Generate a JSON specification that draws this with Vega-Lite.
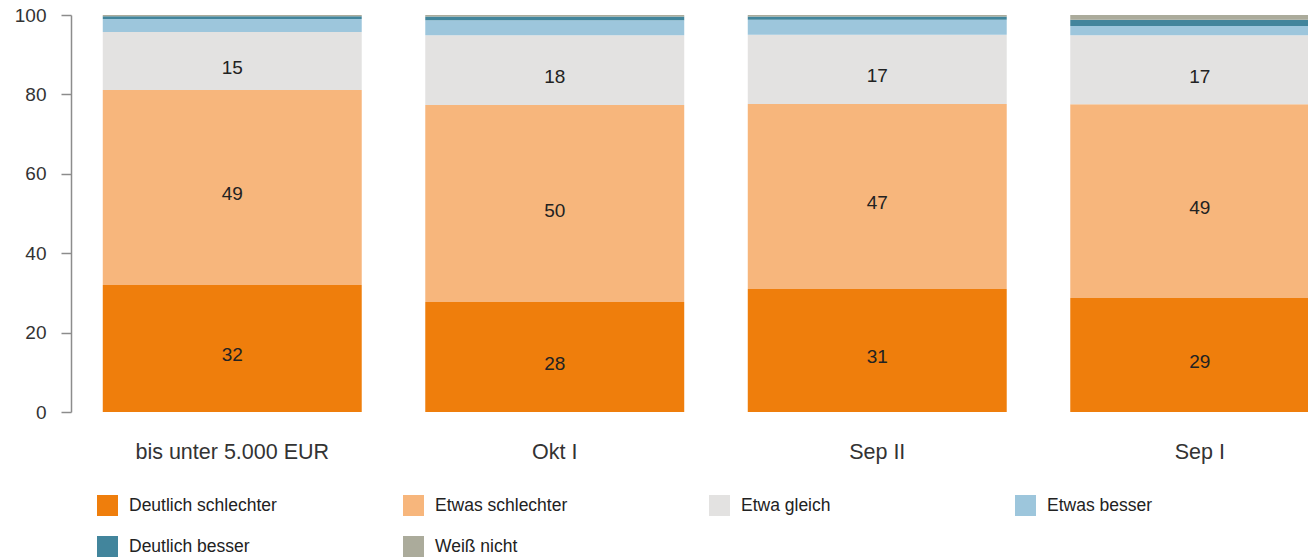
{
  "$schema": "https://vega.github.io/schema/vega-lite/v6.json",
  "width": 1290,
  "height": 397,
  "padding": {"left": 14, "top": 6, "right": 0, "bottom": 0},
  "config": {"font": "Liberation Sans", "view": {"stroke": null}},
  "data": {"values": [
    {"g": "bis unter 5.000 EUR", "c": "Deutlich schlechter", "v": 32.0, "r": 1},
    {"g": "bis unter 5.000 EUR", "c": "Etwas schlechter", "v": 49.1, "r": 2},
    {"g": "bis unter 5.000 EUR", "c": "Etwa gleich", "v": 14.6, "r": 3},
    {"g": "bis unter 5.000 EUR", "c": "Etwas besser", "v": 3.3, "r": 4},
    {"g": "bis unter 5.000 EUR", "c": "Deutlich besser", "v": 0.7, "r": 5},
    {"g": "bis unter 5.000 EUR", "c": "Weiß nicht", "v": 0.3, "r": 6},
    {"g": "Okt I", "c": "Deutlich schlechter", "v": 27.7, "r": 1},
    {"g": "Okt I", "c": "Etwas schlechter", "v": 49.6, "r": 2},
    {"g": "Okt I", "c": "Etwa gleich", "v": 17.6, "r": 3},
    {"g": "Okt I", "c": "Etwas besser", "v": 3.8, "r": 4},
    {"g": "Okt I", "c": "Deutlich besser", "v": 0.9, "r": 5},
    {"g": "Okt I", "c": "Weiß nicht", "v": 0.4, "r": 6},
    {"g": "Sep II", "c": "Deutlich schlechter", "v": 31.0, "r": 1},
    {"g": "Sep II", "c": "Etwas schlechter", "v": 46.6, "r": 2},
    {"g": "Sep II", "c": "Etwa gleich", "v": 17.4, "r": 3},
    {"g": "Sep II", "c": "Etwas besser", "v": 3.8, "r": 4},
    {"g": "Sep II", "c": "Deutlich besser", "v": 0.8, "r": 5},
    {"g": "Sep II", "c": "Weiß nicht", "v": 0.4, "r": 6},
    {"g": "Sep I", "c": "Deutlich schlechter", "v": 28.7, "r": 1},
    {"g": "Sep I", "c": "Etwas schlechter", "v": 48.8, "r": 2},
    {"g": "Sep I", "c": "Etwa gleich", "v": 17.4, "r": 3},
    {"g": "Sep I", "c": "Etwas besser", "v": 2.3, "r": 4},
    {"g": "Sep I", "c": "Deutlich besser", "v": 1.6, "r": 5},
    {"g": "Sep I", "c": "Weiß nicht", "v": 1.2, "r": 6}
  ]},
  "encoding": {
    "x": {
      "field": "g", "type": "nominal",
      "sort": ["bis unter 5.000 EUR", "Okt I", "Sep II", "Sep I"],
      "scale": {"paddingInner": 0.197, "paddingOuter": 0.0985},
      "axis": {"title": null, "domain": false, "ticks": false, "labelAngle": 0, "labelPadding": 29, "labelFontSize": 21.5, "labelColor": "#333333", "labelLimit": 400}
    }
  },
  "layer": [
    {
      "mark": {"type": "bar"},
      "encoding": {
        "y": {
          "field": "v", "type": "quantitative", "stack": "zero",
          "scale": {"domain": [0, 100], "nice": false},
          "axis": {"title": null, "values": [0, 20, 40, 60, 80, 100], "grid": false, "tickSize": 10, "labelPadding": 15, "labelFontSize": 19, "labelColor": "#333333", "domainColor": "#8c8c8c", "tickColor": "#8c8c8c", "domainWidth": 1.5, "tickWidth": 1.5}
        },
        "order": {"field": "r", "type": "quantitative", "sort": "ascending"},
        "color": {
          "field": "c", "type": "nominal",
          "scale": {
            "domain": ["Deutlich schlechter", "Etwas schlechter", "Etwa gleich", "Etwas besser", "Deutlich besser", "Weiß nicht"],
            "range": ["#ef7e0c", "#f7b67c", "#e3e2e1", "#9dc6dc", "#42859c", "#abab9b"]
          },
          "legend": {
            "title": null, "orient": "none", "legendX": 26, "legendY": 480,
            "direction": "horizontal", "columns": 4, "gridAlign": "all",
            "columnPadding": 126, "rowPadding": 20, "padding": 0,
            "symbolType": "square", "symbolSize": 441, "symbolStrokeWidth": 0, "symbolOpacity": 1,
            "labelFontSize": 17.5, "labelOffset": 11, "labelColor": "#222222", "labelLimit": 300
          }
        }
      }
    },
    {
      "transform": [
        {"stack": "v", "groupby": ["g"], "sort": [{"field": "r", "order": "ascending"}], "as": ["v0", "v1"]},
        {"calculate": "(datum.v0 + datum.v1) / 2", "as": "mid"},
        {"filter": "datum.r <= 3"}
      ],
      "mark": {"type": "text", "fontSize": 19, "color": "#222222", "baseline": "middle", "dy": 7},
      "encoding": {
        "y": {"field": "mid", "type": "quantitative"},
        "text": {"field": "v", "type": "quantitative", "format": ".0f"}
      }
    }
  ]
}
